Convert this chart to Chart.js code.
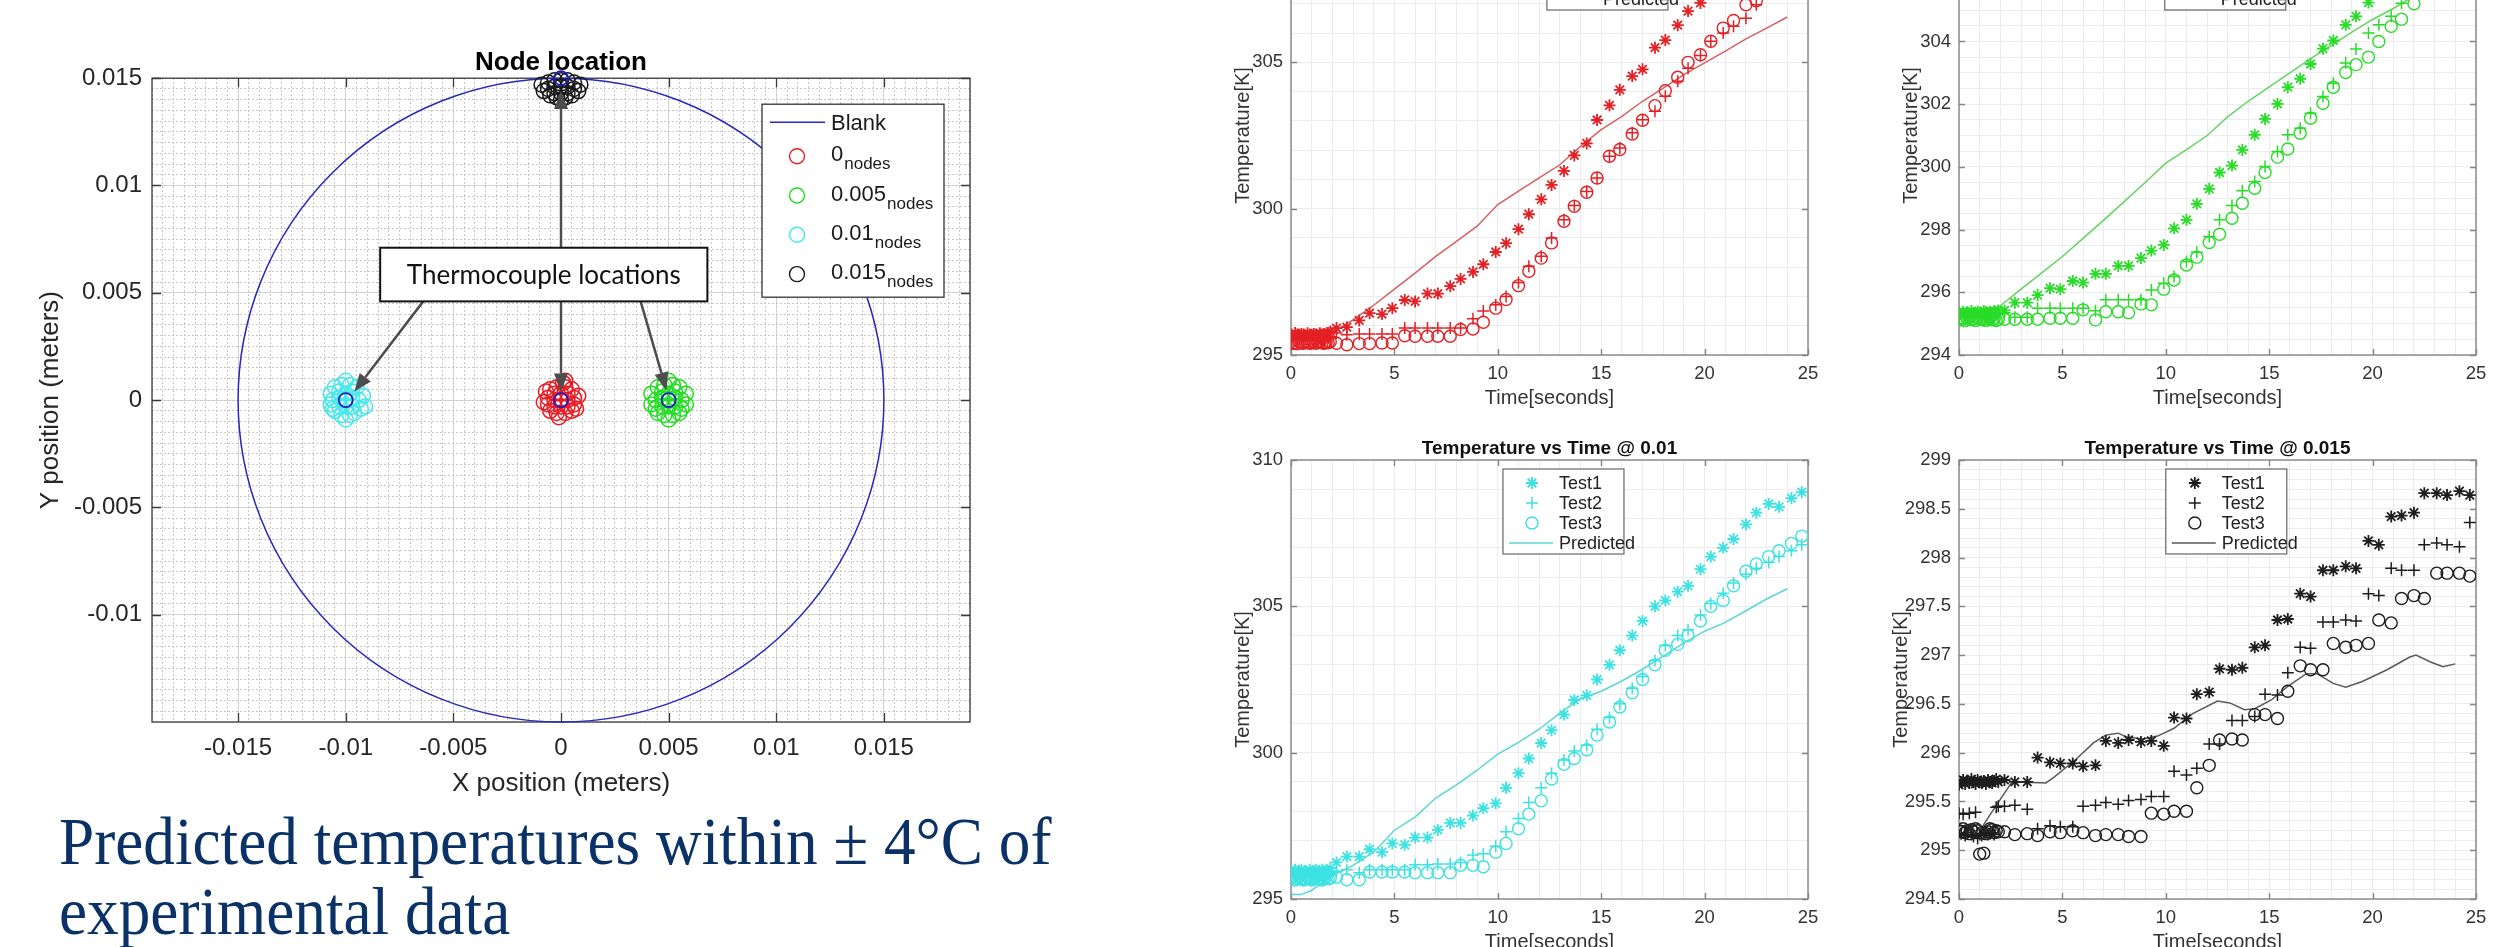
<!DOCTYPE html>
<html>
<head>
<meta charset="utf-8">
<script src="https://cdn.jsdelivr.net/npm/chart.js@4/dist/chart.umd.min.js"></script>
<style>
  body { margin: 0; width: 2511px; height: 947px; overflow: hidden; background: #fff; position: relative; }
  .box { position: absolute; }
  #summary {
    position: absolute; left: 59px; top: 806px; margin: 0; white-space: nowrap;
    font-family: "Liberation Serif", "Times New Roman", serif; font-size: 68px; line-height: 70px; color: #0a3266;
    transform: scaleX(0.93); transform-origin: 0 0;
  }
</style>
</head>
<body>
<div class="box" style="left:0;top:0;"><canvas id="nodeChart" width="1122" height="802"></canvas></div>
<div class="box" style="left:1216px;top:-108px;"><canvas id="panel0" width="667" height="523"></canvas></div>
<div class="box" style="left:1884px;top:-108px;"><canvas id="panel005" width="667" height="523"></canvas></div>
<div class="box" style="left:1216px;top:436px;"><canvas id="panel01" width="667" height="523"></canvas></div>
<div class="box" style="left:1884px;top:436px;"><canvas id="panel015" width="667" height="523"></canvas></div>
<p id="summary">Predicted temperatures within ± 4°C of<br>experimental data</p>

<script>
// ---------- node location plot ----------
const nodeXTicks = [-0.015, -0.01, -0.005, 0, 0.005, 0.01, 0.015];
const nodeYTicks = [-0.01, -0.005, 0, 0.005, 0.01, 0.015];
const blankCircle = [0, 0, 0.015]; // centre x, centre y, radius
const nodeLabels = ['0', '0.005', '0.01', '0.015'];
const thermocouples = [[0, 0], [0.005, 0], [-0.01, 0], [0, 0.015]];
const nodes0 = [[0,0],[0.0003,0],[-0.0003,0],[0,0.0003],[0,-0.0003],[0.0003,0.0003],[-0.0003,0.0003],[0.0003,-0.0003],[-0.0003,-0.0003],
  [0.0006,0.0001],[-0.0006,0.0001],[0.0006,-0.0002],[-0.0006,-0.0002],[0.0002,0.0006],[-0.0002,0.0006],[0.0002,-0.0006],[-0.0002,-0.0006],
  [0.0005,0.0005],[-0.0005,0.0005],[0.0005,-0.0005],[-0.0005,-0.0005],[0.0008,0.0002],[-0.0008,-0.0001],[0.0001,0.0008],[-0.0001,-0.0008],
  [0.0007,-0.0004],[-0.0007,0.0004],[0.0002,0.0009]];
const nodes005 = [[0.005,0],[0.0053,0.0001],[0.0047,0.0001],[0.005,0.0003],[0.005,-0.0003],[0.0053,-0.0003],[0.0047,-0.0003],[0.0053,0.0004],
  [0.0047,0.0004],[0.0056,0],[0.0044,0],[0.0056,-0.0004],[0.0044,-0.0004],[0.0052,0.0007],[0.0048,0.0007],[0.0052,-0.0007],[0.0048,-0.0007],
  [0.0055,0.0006],[0.0045,0.0006],[0.0055,-0.0006],[0.0045,-0.0006],[0.0058,0.0003],[0.0042,0.0003],[0.0058,-0.0002],[0.0042,-0.0002],
  [0.005,0.0009],[0.005,-0.0009]];
const nodes01 = [[-0.01,0],[-0.0097,0.0001],[-0.0103,0.0001],[-0.01,0.0003],[-0.01,-0.0003],[-0.0097,-0.0003],[-0.0103,-0.0003],[-0.0097,0.0004],
  [-0.0103,0.0004],[-0.0106,0],[-0.0094,0],[-0.0106,-0.0004],[-0.0093,-0.0004],[-0.0102,0.0007],[-0.0098,0.0007],[-0.0102,-0.0007],
  [-0.0098,-0.0007],[-0.0095,0.0006],[-0.0105,0.0006],[-0.0096,-0.0006],[-0.0105,-0.0005],[-0.0092,0.0002],[-0.0107,0.0003],
  [-0.0091,-0.0003],[-0.0107,-0.0002],[-0.01,0.0009],[-0.01,-0.0009]];
const nodes015 = [[0,0.0149],[0.0003,0.0149],[-0.0003,0.0149],[0.0006,0.0148],[-0.0006,0.0148],[0.0009,0.0147],[-0.0009,0.0147],[0,0.0146],
  [0.0003,0.0146],[-0.0003,0.0146],[0.0006,0.0145],[-0.0006,0.0145],[0.0008,0.0144],[-0.0008,0.0144],[0,0.0143],[0.0003,0.0143],
  [-0.0003,0.0143],[0.0005,0.0142],[-0.0005,0.0142],[0.0002,0.0141],[-0.0002,0.0141],[0,0.014]];
// callout: box corners and arrows (from -> to), in metres
const calloutText = 'Thermocouple locations';
const calloutBox = [-0.0084, 0.0071, 0.0068, 0.0046];
const calloutArrows = [[-0.0064, 0.0046, -0.0096, 0.0004], [0, 0.0046, 0, 0.0004], [0.0037, 0.0046, 0.0049, 0.00045], [0, 0.0071, 0, 0.0144]];

// ---------- temperature vs time plots ----------
const testTimes = [0,0.1,0.2,0.3,0.4,0.5,0.6,0.7,0.8,0.9,1.0,1.1,1.2,1.3,1.4,1.5,1.6,1.7,1.8,1.9,
  2.2,2.7,3.3,3.8,4.4,4.9,5.5,6.0,6.6,7.1,7.7,8.2,8.8,9.3,9.9,10.4,11.0,11.5,12.1,12.6,13.2,13.7,14.3,14.8,15.4,15.9,
  16.5,17.0,17.6,18.1,18.7,19.2,19.8,20.3,20.9,21.4,22.0,22.5,23.1,23.6,24.2,24.7];
const timeTicks = [0, 5, 10, 15, 20, 25];

const t0Test1 = [295.7,295.65,295.75,295.7,295.68,295.72,295.7,295.66,295.74,295.7,295.68,295.72,295.7,295.66,295.74,295.7,295.72,295.68,295.75,295.8,
  295.92,295.95,296.18,296.43,296.4,296.6,296.88,296.83,297.1,297.1,297.35,297.6,297.84,298.1,298.52,298.82,299.3,299.81,300.32,300.81,
  301.29,301.82,302.23,303.03,303.53,304.06,304.53,304.76,305.5,305.76,306.27,306.75,307.03];
const t0Test2 = [295.55,295.5,295.58,295.52,295.55,295.6,295.5,295.55,295.52,295.58,295.55,295.5,295.56,295.55,295.58,295.52,295.55,295.6,295.58,295.62,
  295.75,295.69,295.72,295.72,295.72,295.72,295.92,295.92,295.92,295.92,295.92,295.92,296.24,296.5,296.72,297.0,297.48,298.03,298.37,299.0,
  299.62,300.11,300.59,301.05,301.79,302.07,302.59,303.04,303.33,303.84,304.35,304.8,305.23,305.72,306.0,306.23,306.51,306.97];
const t0Test3 = [295.45,295.4,295.42,295.38,295.45,295.42,295.4,295.45,295.43,295.4,295.42,295.45,295.4,295.43,295.45,295.42,295.4,295.44,295.42,295.45,
  295.4,295.35,295.39,295.39,295.41,295.41,295.66,295.64,295.64,295.64,295.64,295.87,295.89,296.12,296.6,296.9,297.37,297.86,298.31,298.83,
  299.57,300.08,300.56,301.05,301.79,302.02,302.55,303.02,303.52,304.03,304.49,305.0,305.26,305.72,306.17,306.43,306.97,307.1];
const t0PredTime = [0,1,2,3,4,5,6,7,8,9,10,11,12,13,14,15,16,17,18,19,20,21,22,23,24];
const t0Pred = [295.5,295.55,295.75,296.2,296.7,297.25,297.8,298.37,298.88,299.4,300.14,300.6,301.05,301.5,302.13,302.7,303.15,303.67,
  304.12,304.58,304.98,305.38,305.8,306.17,306.55];
const t0TempTicks = [295, 300, 305, 310];

const t005Test1 = [295.35,295.3,295.38,295.32,295.36,295.3,295.4,295.34,295.3,295.38,295.35,295.32,295.4,295.36,295.3,295.38,295.34,295.4,295.36,295.42,
  295.42,295.67,295.67,295.91,296.13,296.1,296.36,296.31,296.59,296.59,296.84,296.84,297.09,297.33,297.51,298.04,298.31,298.82,299.3,299.82,
  300.04,300.54,301.02,301.53,302.01,302.54,302.81,303.28,303.77,304.03,304.53,304.8,305.24];
const t005Test2 = [295.25,295.3,295.22,295.28,295.25,295.3,295.2,295.26,295.3,295.24,295.28,295.22,295.3,295.26,295.24,295.3,295.28,295.25,295.3,295.35,
  295.35,295.2,295.2,295.49,295.49,295.49,295.49,295.49,295.41,295.76,295.76,295.76,295.76,296.07,296.29,296.5,296.98,297.28,297.78,298.31,
  298.77,299.24,299.53,300.01,300.49,301.02,301.23,301.71,302.24,302.67,303.31,303.76,304.27,304.53,304.8,305.22];
const t005Test3 = [295.15,295.12,295.18,295.1,295.15,295.2,295.12,295.16,295.1,295.18,295.14,295.12,295.16,295.1,295.15,295.18,295.12,295.15,295.1,295.14,
  295.14,295.14,295.14,295.14,295.17,295.17,295.17,295.44,295.12,295.38,295.38,295.35,295.63,295.6,296.1,296.39,296.87,297.12,297.59,297.85,
  298.36,298.84,299.32,299.82,300.31,300.57,301.07,301.55,302.03,302.54,303.01,303.26,303.5,304.0,304.48,304.71,305.2];
const t005PredTime = [0,1,1.6,2,3,4,5,6,7,8,9,10,11,12,13,14,15,16,17,18,19,20,21,22,23,24];
const t005Pred = [295.3,295.32,295.38,295.57,296.1,296.62,297.14,297.72,298.3,298.9,299.5,300.12,300.55,301.0,301.6,302.1,302.55,303.0,
  303.45,303.87,304.3,304.7,305.05,305.45,305.85,306.2];
const t005TempTicks = [294, 296, 298, 300, 302, 304, 306, 308];

const t01Test1 = [295.95,295.9,296.0,295.85,295.95,296.0,295.9,295.95,295.85,296.0,295.9,295.95,296.0,295.85,295.9,296.0,295.95,295.9,295.95,296.05,
  296.25,296.45,296.45,296.7,296.6,296.9,296.85,297.1,297.1,297.36,297.6,297.6,297.85,298.1,298.27,298.8,299.3,299.8,300.33,300.77,
  301.3,301.8,301.96,302.5,303.0,303.5,304.0,304.5,305.0,305.2,305.5,305.7,306.27,306.7,307.0,307.3,307.8,308.2,308.5,308.4,308.7,308.9];
const t01Test2 = [295.8,295.75,295.85,295.8,295.7,295.85,295.8,295.75,295.8,295.85,295.75,295.8,295.7,295.8,295.85,295.8,295.75,295.8,295.85,295.9,
  295.95,296.0,295.9,296.0,296.0,296.0,296.0,296.17,296.17,296.2,296.2,296.25,296.5,296.55,296.8,297.3,297.75,298.3,298.8,299.3,
  299.75,300.06,300.25,300.8,301.2,301.67,302.2,302.6,303.15,303.66,304.0,304.2,304.7,305.1,305.45,305.8,306.1,306.3,306.5,306.7,306.9,307.1];
const t01Test3 = [295.7,295.75,295.65,295.7,295.75,295.7,295.65,295.7,295.75,295.7,295.65,295.7,295.75,295.7,295.7,295.65,295.7,295.75,295.7,295.72,
  295.75,295.66,295.66,295.92,295.92,295.92,295.92,295.9,295.9,295.9,295.9,296.15,296.15,296.1,296.6,296.9,297.4,297.9,298.36,299.1,
  299.6,299.8,300.1,300.6,301.05,301.56,302.05,302.5,303.0,303.5,303.7,304.0,304.5,305.0,305.2,305.7,306.2,306.45,306.7,306.9,307.15,307.4];
const t01PredTime = [0,0.5,1,1.5,2,3,4,5,6,7,8,9,10,11,12,13,14,15,16,17,18,19,20,21,22,23,24];
const t01Pred = [295.15,295.15,295.3,295.55,295.8,296.15,296.6,297.35,297.8,298.45,298.9,299.4,299.95,300.35,300.8,301.35,301.85,302.1,
  302.45,302.85,303.3,303.75,304.15,304.45,304.85,305.25,305.6];
const t01TempTicks = [295, 300, 305, 310];

const t015Test1 = [295.67,295.7,295.72,295.68,295.71,295.69,295.73,295.7,295.68,295.72,295.7,295.69,295.71,295.68,295.72,295.7,295.69,295.71,295.73,295.7,
  295.72,295.7,295.7,295.95,295.9,295.89,295.89,295.86,295.87,296.12,296.1,296.13,296.11,296.12,296.07,296.36,296.35,296.6,296.62,296.86,
  296.85,296.87,297.08,297.1,297.36,297.37,297.63,297.6,297.87,297.87,297.91,297.89,298.17,298.13,298.42,298.43,298.46,298.66,298.66,298.64,298.68,298.64];
const t015Test2 = [295.38,295.17,295.37,295.15,295.18,295.38,295.16,295.14,295.39,295.12,295.16,295.15,295.17,295.18,295.16,295.17,295.18,295.16,295.44,295.45,
  295.45,295.46,295.42,295.22,295.25,295.24,295.24,295.45,295.46,295.49,295.47,295.51,295.52,295.55,295.55,295.81,295.77,295.84,296.09,296.09,
  296.33,296.33,296.37,296.6,296.59,296.82,297.08,297.07,297.34,297.34,297.36,297.35,297.63,297.61,297.89,297.87,297.87,298.13,298.15,298.13,298.11,298.36];
const t015Test3 = [295.2,295.19,295.22,295.18,295.2,295.17,295.21,295.19,295.22,295.2,294.96,295.18,294.97,295.17,295.19,295.22,295.21,295.18,295.2,295.19,
  295.19,295.16,295.17,295.15,295.19,295.18,295.2,295.18,295.15,295.16,295.16,295.14,295.14,295.38,295.37,295.4,295.4,295.64,295.87,296.13,
  296.14,296.13,296.39,296.39,296.35,296.63,296.89,296.85,296.85,297.12,297.08,297.1,297.12,297.36,297.33,297.58,297.61,297.58,297.84,297.84,297.84,297.81];
const t015PredTime = [1.0,1.8,2.5,2.9,4.2,4.6,5.7,6.5,7.1,7.7,8.1,8.9,9.6,10.4,11.3,12.5,13.1,13.8,14.3,15.1,15.9,16.8,17.3,18.1,18.7,19.5,
  20.7,21.8,22.1,22.8,23.4,24.0];
const t015Pred = [295.2,295.46,295.68,295.7,295.69,295.75,295.94,296.1,296.18,296.2,296.16,296.14,296.17,296.25,296.4,296.53,296.51,296.44,
  296.45,296.54,296.68,296.81,296.81,296.71,296.67,296.73,296.85,296.98,297.0,296.93,296.88,296.91];
const t015TempTicks = [294.5, 295, 295.5, 296, 296.5, 297, 297.5, 298, 298.5, 299];

Chart.defaults.font.family = '"Liberation Sans", Arial, sans-serif';

function pairs(xs, ys) {
  return ys.map((y, i) => ({ x: xs[i], y: y }));
}
function points(list) {
  return list.map((p) => ({ x: p[0], y: p[1] }));
}
function fixedTicks(values) {
  return (scale) => { scale.ticks = values.map((v) => ({ value: v })); };
}

function drawMarker(ctx, style, x, y, r) {
  ctx.beginPath();
  if (style === 'circle') {
    ctx.arc(x, y, r, 0, Math.PI * 2);
  } else {
    ctx.moveTo(x - r, y); ctx.lineTo(x + r, y);
    ctx.moveTo(x, y - r); ctx.lineTo(x, y + r);
    if (style === 'star') {
      const d = r * 0.7071;
      ctx.moveTo(x - d, y - d); ctx.lineTo(x + d, y + d);
      ctx.moveTo(x - d, y + d); ctx.lineTo(x + d, y - d);
    }
  }
  ctx.stroke();
}

// axes box with inward tick marks, drawn under the data like MATLAB
const framePlugin = {
  id: 'frame',
  beforeDatasetsDraw(chart, args, opts) {
    const { ctx, chartArea: a, scales } = chart;
    ctx.save();
    ctx.strokeStyle = opts.color;
    ctx.lineWidth = opts.width;
    ctx.beginPath();
    scales.x.ticks.forEach((t) => {
      const px = Math.round(scales.x.getPixelForValue(t.value)) + 0.5;
      ctx.moveTo(px, a.bottom); ctx.lineTo(px, a.bottom - opts.tick);
      ctx.moveTo(px, a.top); ctx.lineTo(px, a.top + opts.tick);
    });
    scales.y.ticks.forEach((t) => {
      const py = Math.round(scales.y.getPixelForValue(t.value)) + 0.5;
      ctx.moveTo(a.left, py); ctx.lineTo(a.left + opts.tick, py);
      ctx.moveTo(a.right, py); ctx.lineTo(a.right - opts.tick, py);
    });
    ctx.stroke();
    ctx.strokeRect(a.left, a.top, a.right - a.left, a.bottom - a.top);
    ctx.restore();
  }
};

// the "Blank" domain outline
const blankPlugin = {
  id: 'blank',
  beforeDatasetsDraw(chart) {
    const { ctx, scales: { x, y } } = chart;
    const cx = x.getPixelForValue(blankCircle[0]);
    const cy = y.getPixelForValue(blankCircle[1]);
    const rx = Math.abs(x.getPixelForValue(blankCircle[0] + blankCircle[2]) - cx);
    const ry = Math.abs(y.getPixelForValue(blankCircle[1] + blankCircle[2]) - cy);
    ctx.save();
    ctx.strokeStyle = 'rgb(40,40,190)';
    ctx.lineWidth = 1.5;
    ctx.beginPath();
    ctx.ellipse(cx, cy, rx, ry, 0, 0, Math.PI * 2);
    ctx.stroke();
    ctx.restore();
  }
};

// callout box with arrows to the thermocouples
const calloutPlugin = {
  id: 'callout',
  afterDatasetsDraw(chart) {
    const { ctx, scales: { x, y } } = chart;
    ctx.save();
    ctx.strokeStyle = '#4d4d4d';
    ctx.fillStyle = '#4d4d4d';
    ctx.lineWidth = 2.5;
    calloutArrows.forEach((arr) => {
      const x1 = x.getPixelForValue(arr[0]), y1 = y.getPixelForValue(arr[1]);
      const x2 = x.getPixelForValue(arr[2]), y2 = y.getPixelForValue(arr[3]);
      const ang = Math.atan2(y2 - y1, x2 - x1);
      const head = 18, half = 7;
      const bx = x2 - head * Math.cos(ang), by = y2 - head * Math.sin(ang);
      ctx.beginPath(); ctx.moveTo(x1, y1); ctx.lineTo(bx, by); ctx.stroke();
      ctx.beginPath();
      ctx.moveTo(x2, y2);
      ctx.lineTo(bx + half * Math.sin(ang), by - half * Math.cos(ang));
      ctx.lineTo(bx - half * Math.sin(ang), by + half * Math.cos(ang));
      ctx.closePath(); ctx.fill();
    });
    const bx1 = x.getPixelForValue(calloutBox[0]), by1 = y.getPixelForValue(calloutBox[1]);
    const bx2 = x.getPixelForValue(calloutBox[2]), by2 = y.getPixelForValue(calloutBox[3]);
    ctx.fillStyle = '#fff';
    ctx.fillRect(bx1, by1, bx2 - bx1, by2 - by1);
    ctx.strokeStyle = '#111';
    ctx.lineWidth = 2;
    ctx.strokeRect(bx1, by1, bx2 - bx1, by2 - by1);
    ctx.fillStyle = '#111';
    ctx.font = '26px Lato, "Open Sans", sans-serif';
    ctx.textAlign = 'center';
    ctx.textBaseline = 'middle';
    ctx.fillText(calloutText, (bx1 + bx2) / 2, (by1 + by2) / 2 + 1);
    ctx.restore();
  }
};

// legend with subscripted labels
const nodeLegendPlugin = {
  id: 'nodeLegend',
  afterDraw(chart) {
    const { ctx, chartArea: a } = chart;
    const w = 182, h = 193;
    const left = a.right - 26 - w, top = a.top + 26;
    ctx.save();
    ctx.fillStyle = '#fff';
    ctx.fillRect(left, top, w, h);
    ctx.strokeStyle = '#333';
    ctx.lineWidth = 1.3;
    ctx.strokeRect(left, top, w, h);
    ctx.textAlign = 'left';
    ctx.textBaseline = 'alphabetic';
    ctx.fillStyle = '#1a1a1a';
    let yRow = top + 18;
    ctx.strokeStyle = 'rgb(40,40,190)';
    ctx.lineWidth = 1.5;
    ctx.beginPath(); ctx.moveTo(left + 8, yRow); ctx.lineTo(left + 63, yRow); ctx.stroke();
    ctx.font = '22px "Liberation Sans", Arial, sans-serif';
    ctx.fillText('Blank', left + 69, yRow + 8);
    const sets = chart.data.datasets.filter((d) => d.nodeLabel !== undefined);
    sets.forEach((ds, i) => {
      yRow = top + 52 + i * 39.3;
      ctx.strokeStyle = ds.borderColor;
      ctx.lineWidth = 1.4;
      drawMarker(ctx, 'circle', left + 35, yRow, 7.5);
      ctx.font = '22px "Liberation Sans", Arial, sans-serif';
      ctx.fillText(ds.nodeLabel, left + 69, yRow + 5);
      const mw = ctx.measureText(ds.nodeLabel).width;
      ctx.font = '17px "Liberation Sans", Arial, sans-serif';
      ctx.fillText('nodes', left + 69 + mw + 1, yRow + 13);
    });
    ctx.restore();
  }
};

function nodeSet(label, list, color, order) {
  return {
    label: label + ' nodes', nodeLabel: label, data: points(list), order: order,
    pointStyle: 'circle', pointRadius: 7.5, pointBorderWidth: 1.5,
    borderColor: color, backgroundColor: 'rgba(0,0,0,0)', clip: false
  };
}

// chart area 152..970 x 78..722; the minor y axis on the right mirrors the left axis width,
// so the title is centred over the axes
new Chart(document.getElementById('nodeChart'), {
  type: 'scatter',
  data: {
    datasets: [
      { label: 'Thermocouples', data: points(thermocouples), order: 0, pointStyle: 'circle', pointRadius: 7,
        pointBorderWidth: 1.8, borderColor: 'rgb(30,30,190)', backgroundColor: 'rgba(0,0,0,0)', clip: false },
      nodeSet(nodeLabels[0], nodes0, 'rgb(232,28,36)', 1),
      nodeSet(nodeLabels[1], nodes005, 'rgb(34,222,34)', 2),
      nodeSet(nodeLabels[2], nodes01, 'rgb(70,232,235)', 3),
      nodeSet(nodeLabels[3], nodes015, 'rgb(25,25,25)', 4)
    ]
  },
  options: {
    responsive: false, animation: false, devicePixelRatio: 1,
    layout: { padding: 0 },
    plugins: {
      legend: { display: false },
      tooltip: { enabled: false },
      title: { display: true, text: 'Node location', color: '#000', font: { size: 26, weight: 'bold' }, padding: { top: 47, bottom: 0 } },
      frame: { color: '#3a3a3a', width: 1.3, tick: 9 }
    },
    scales: {
      x: {
        type: 'linear', min: -0.019, max: 0.019,
        afterBuildTicks: fixedTicks(nodeXTicks),
        afterFit: (s) => { s.height = 80; },
        grid: { color: '#d9d9d9', drawTicks: false },
        border: { display: false },
        ticks: { padding: 12, color: '#262626', font: { size: 24 }, maxRotation: 0, autoSkip: false, callback: (v) => String(v) },
        title: { display: true, text: 'X position (meters)', color: '#262626', font: { size: 26 }, padding: { top: 0, bottom: 2.4 } }
      },
      y: {
        type: 'linear', min: -0.015, max: 0.015,
        afterBuildTicks: fixedTicks(nodeYTicks),
        afterFit: (s) => { s.width = 152; },
        grid: { color: '#d9d9d9', drawTicks: false },
        border: { display: false },
        ticks: { padding: 10, color: '#262626', font: { size: 24 }, autoSkip: false, callback: (v) => String(v) },
        title: { display: true, text: 'Y position (meters)', color: '#262626', font: { size: 26 }, padding: { top: 35.4, bottom: 0 } }
      },
      xMinor: {
        type: 'linear', position: 'top', min: -0.019, max: 0.019, z: -1,
        ticks: { display: false, stepSize: 0.0005 },
        grid: { color: '#c8c8c8', drawTicks: false, lineWidth: 1 },
        border: { display: false, dash: [2, 2] }
      },
      yMinor: {
        type: 'linear', position: 'right', min: -0.015, max: 0.015, z: -1,
        afterFit: (s) => { s.width = 152; },
        ticks: { display: false, stepSize: 0.0005 },
        grid: { color: '#c8c8c8', drawTicks: false, lineWidth: 1 },
        border: { display: false, dash: [2, 2] }
      }
    }
  },
  plugins: [framePlugin, blankPlugin, calloutPlugin, nodeLegendPlugin]
});

// legend box inside each temperature panel
const panelLegendPlugin = {
  id: 'panelLegend',
  afterDraw(chart, args, opts) {
    const { ctx, chartArea: a } = chart;
    const w = 121, h = 85;
    const left = a.left + opts.at * (a.right - a.left), top = a.top + 9;
    ctx.save();
    ctx.fillStyle = '#fff';
    ctx.fillRect(left, top, w, h);
    ctx.strokeStyle = '#666';
    ctx.lineWidth = 1.2;
    ctx.strokeRect(left, top, w, h);
    ctx.font = '18px "Liberation Sans", Arial, sans-serif';
    ctx.textAlign = 'left';
    ctx.textBaseline = 'middle';
    chart.data.datasets.forEach((ds, i) => {
      const y = top + 14 + i * 20;
      ctx.strokeStyle = ds.borderColor;
      if (ds.showLine) {
        ctx.lineWidth = ds.borderWidth;
        ctx.beginPath(); ctx.moveTo(left + 6, y); ctx.lineTo(left + 50, y); ctx.stroke();
      } else {
        ctx.lineWidth = ds.pointBorderWidth;
        drawMarker(ctx, ds.pointStyle, left + 29, y, ds.pointRadius);
      }
      ctx.fillStyle = '#222';
      ctx.fillText(ds.label, left + 56, y + 1);
    });
    ctx.restore();
  }
};

// chart area: 517 x 439 px; y axis box 75 px, mirrored by the minor axis on the right
function tempPanel(id, p) {
  new Chart(document.getElementById(id), {
    type: 'scatter',
    data: {
      datasets: [
        { label: 'Test1', data: pairs(testTimes, p.test1), pointStyle: 'star', pointRadius: 6, pointBorderWidth: 1.8,
          borderColor: p.marker, backgroundColor: p.marker },
        { label: 'Test2', data: pairs(testTimes, p.test2), pointStyle: 'cross', pointRadius: 6, pointBorderWidth: 1.5,
          borderColor: p.marker, backgroundColor: p.marker },
        { label: 'Test3', data: pairs(testTimes, p.test3), pointStyle: 'circle', pointRadius: 6, pointBorderWidth: 1.4,
          borderColor: p.marker, backgroundColor: 'rgba(0,0,0,0)' },
        { label: 'Predicted', data: pairs(p.predTime, p.pred), showLine: true, pointRadius: 0, borderWidth: 1.5,
          borderColor: p.line, backgroundColor: p.line }
      ]
    },
    options: {
      responsive: false, animation: false, devicePixelRatio: 1,
      layout: { padding: 0 },
      plugins: {
        legend: { display: false },
        tooltip: { enabled: false },
        title: { display: true, text: p.title, color: '#111', font: { size: 19, weight: 'bold' }, padding: { top: 1, bottom: 0.2 } },
        frame: { color: '#858585', width: 1.4, tick: 6 },
        panelLegend: { at: p.legendAt }
      },
      scales: {
        x: {
          type: 'linear', min: 0, max: 25,
          afterBuildTicks: fixedTicks(timeTicks),
          afterFit: (s) => { s.height = 60; },
          grid: { color: '#d2d2d2', drawTicks: false },
          border: { display: false },
          ticks: { padding: 8, color: '#333', font: { size: 18.5 }, maxRotation: 0, autoSkip: false, callback: (v) => String(v) },
          title: { display: true, text: 'Time[seconds]', color: '#333', font: { size: 20 }, padding: { top: 0, bottom: 5 } }
        },
        y: {
          type: 'linear', min: p.yTicks[0], max: p.yTicks[p.yTicks.length - 1],
          afterBuildTicks: fixedTicks(p.yTicks),
          afterFit: (s) => { s.width = 75; },
          grid: { color: '#d2d2d2', drawTicks: false },
          border: { display: false },
          ticks: { padding: 8, color: '#333', font: { size: 18.5 }, autoSkip: false, callback: (v) => String(v) },
          title: { display: true, text: 'Temperature[K]', color: '#333', font: { size: 20 }, padding: { top: p.yTitlePad, bottom: 0 } }
        },
        xMinor: {
          type: 'linear', position: 'top', min: 0, max: 25, z: -1,
          ticks: { display: false, stepSize: 1 },
          grid: { color: '#ececec', drawTicks: false },
          border: { display: false }
        },
        yMinor: {
          type: 'linear', position: 'right', min: p.yTicks[0], max: p.yTicks[p.yTicks.length - 1], z: -1,
          afterFit: (s) => { s.width = 75; },
          ticks: { display: false, stepSize: p.minorStep },
          grid: { color: '#ececec', drawTicks: false },
          border: { display: false }
        }
      }
    },
    plugins: [framePlugin, panelLegendPlugin]
  });
}

tempPanel('panel0', {
  title: 'Temperature vs Time @ 0', test1: t0Test1, test2: t0Test2, test3: t0Test3,
  predTime: t0PredTime, pred: t0Pred, yTicks: t0TempTicks, minorStep: 1,
  marker: 'rgb(228,32,36)', line: 'rgb(214,96,96)', legendAt: 0.495, yTitlePad: 15
});
tempPanel('panel005', {
  title: 'Temperature vs Time @ 0.005', test1: t005Test1, test2: t005Test2, test3: t005Test3,
  predTime: t005PredTime, pred: t005Pred, yTicks: t005TempTicks, minorStep: 0.5,
  marker: 'rgb(40,220,40)', line: 'rgb(100,212,100)', legendAt: 0.398, yTitlePad: 15
});
tempPanel('panel01', {
  title: 'Temperature vs Time @ 0.01', test1: t01Test1, test2: t01Test2, test3: t01Test3,
  predTime: t01PredTime, pred: t01Pred, yTicks: t01TempTicks, minorStep: 1,
  marker: 'rgb(60,226,226)', line: 'rgb(90,214,214)', legendAt: 0.41, yTitlePad: 15
});
tempPanel('panel015', {
  title: 'Temperature vs Time @ 0.015', test1: t015Test1, test2: t015Test2, test3: t015Test3,
  predTime: t015PredTime, pred: t015Pred, yTicks: t015TempTicks, minorStep: 0.1,
  marker: 'rgb(30,30,30)', line: 'rgb(90,90,90)', legendAt: 0.40, yTitlePad: 5
});
</script>
</body>
</html>
